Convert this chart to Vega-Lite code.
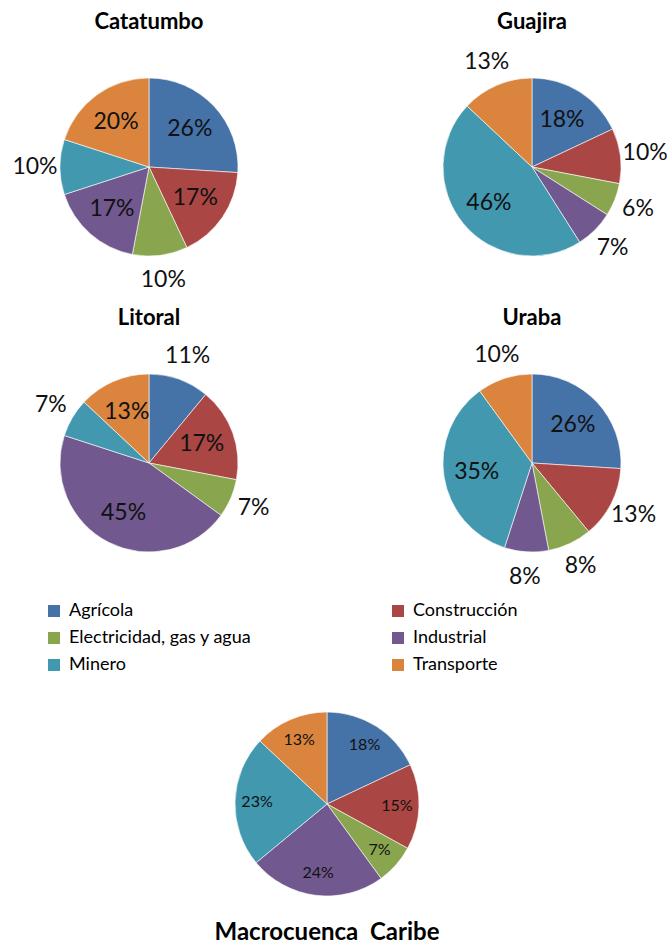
{
  "$schema": "https://vega.github.io/schema/vega-lite/v6.json",
  "padding": {"left": 12, "top": 11, "right": 0, "bottom": 0},
  "background": "white",
  "datasets": {
    "shares": [
      {"region": "Catatumbo", "sector": "Agrícola", "value": 0.26, "pos": "in"},
      {"region": "Catatumbo", "sector": "Construcción", "value": 0.17, "pos": "in"},
      {"region": "Catatumbo", "sector": "Electricidad, gas y agua", "value": 0.10, "pos": "out"},
      {"region": "Catatumbo", "sector": "Industrial", "value": 0.17, "pos": "in"},
      {"region": "Catatumbo", "sector": "Minero", "value": 0.10, "pos": "out"},
      {"region": "Catatumbo", "sector": "Transporte", "value": 0.20, "pos": "in"},
      {"region": "Guajira", "sector": "Agrícola", "value": 0.18, "pos": "in"},
      {"region": "Guajira", "sector": "Construcción", "value": 0.10, "pos": "out"},
      {"region": "Guajira", "sector": "Electricidad, gas y agua", "value": 0.06, "pos": "out"},
      {"region": "Guajira", "sector": "Industrial", "value": 0.07, "pos": "out"},
      {"region": "Guajira", "sector": "Minero", "value": 0.46, "pos": "in"},
      {"region": "Guajira", "sector": "Transporte", "value": 0.13, "pos": "out"},
      {"region": "Litoral", "sector": "Agrícola", "value": 0.11, "pos": "out"},
      {"region": "Litoral", "sector": "Construcción", "value": 0.17, "pos": "in"},
      {"region": "Litoral", "sector": "Electricidad, gas y agua", "value": 0.07, "pos": "out"},
      {"region": "Litoral", "sector": "Industrial", "value": 0.45, "pos": "in"},
      {"region": "Litoral", "sector": "Minero", "value": 0.07, "pos": "out"},
      {"region": "Litoral", "sector": "Transporte", "value": 0.13, "pos": "in"},
      {"region": "Uraba", "sector": "Agrícola", "value": 0.26, "pos": "in"},
      {"region": "Uraba", "sector": "Construcción", "value": 0.13, "pos": "out"},
      {"region": "Uraba", "sector": "Electricidad, gas y agua", "value": 0.08, "pos": "out"},
      {"region": "Uraba", "sector": "Industrial", "value": 0.08, "pos": "out"},
      {"region": "Uraba", "sector": "Minero", "value": 0.35, "pos": "in"},
      {"region": "Uraba", "sector": "Transporte", "value": 0.10, "pos": "out"},
      {"region": "Macrocuenca Caribe", "sector": "Agrícola", "value": 0.18, "pos": "in"},
      {"region": "Macrocuenca Caribe", "sector": "Construcción", "value": 0.15, "pos": "in"},
      {"region": "Macrocuenca Caribe", "sector": "Electricidad, gas y agua", "value": 0.07, "pos": "in"},
      {"region": "Macrocuenca Caribe", "sector": "Industrial", "value": 0.24, "pos": "in"},
      {"region": "Macrocuenca Caribe", "sector": "Minero", "value": 0.23, "pos": "in"},
      {"region": "Macrocuenca Caribe", "sector": "Transporte", "value": 0.13, "pos": "in"}
    ]
  },
  "data": {"name": "shares"},
  "config": {
    "view": {"stroke": null},
    "font": "Lato",
    "title": {"font": "Lato", "fontSize": 22, "fontWeight": "bold", "color": "#000", "anchor": "middle", "offset": 8}
  },
  "resolve": {"scale": {"color": "shared"}},
  "spacing": 121,
  "vconcat": [
    {
      "spacing": 14,
      "vconcat": [
        {
          "spacing": 111,
          "bounds": "flush",
          "hconcat": [
            {
              "title": "Catatumbo",
              "width": 272, "height": 250,
              "transform": [{"filter": "datum.region === 'Catatumbo'"}],
              "encoding": {"theta": {"field": "value", "type": "quantitative", "stack": true}, "order": {"field": "sector", "type": "ordinal", "sort": "ascending"}},
              "layer": [
                {"mark": {"type": "arc", "outerRadius": 89, "stroke": "#fff", "strokeWidth": 0.6},
                 "encoding": {"color": {"field": "sector", "type": "nominal",
                   "scale": {"domain": ["Agrícola", "Construcción", "Electricidad, gas y agua", "Industrial", "Minero", "Transporte"], "range": ["#4572A7", "#AA4643", "#89A54E", "#71588F", "#4198AF", "#DB843D"]},
                   "legend": {"orient": "none", "legendX": 32, "legendY": 560, "direction": "horizontal", "columns": 2, "columnPadding": 137, "rowPadding": 9, "title": null, "symbolType": "square", "symbolSize": 144, "symbolStrokeWidth": 0, "labelFontSize": 18, "labelFont": "Lato", "labelColor": "#000", "labelOffset": 6, "labelLimit": 400}}}},
                {"mark": {"type": "text", "radius": 56, "fontSize": 23, "color": "#111"},
                 "encoding": {"detail": {"field": "sector"}, "text": {"field": "value", "format": ".0%"},
                   "opacity": {"condition": {"test": "datum.pos === 'in'", "value": 1}, "value": 0}}},
                {"mark": {"type": "text", "radius": 114, "fontSize": 23, "color": "#111"},
                 "encoding": {"detail": {"field": "sector"}, "text": {"field": "value", "format": ".0%"},
                   "opacity": {"condition": {"test": "datum.pos === 'out'", "value": 1}, "value": 0}}}
              ]
            },
            {
              "title": "Guajira",
              "width": 272, "height": 250,
              "transform": [{"filter": "datum.region === 'Guajira'"}],
              "encoding": {"theta": {"field": "value", "type": "quantitative", "stack": true}, "order": {"field": "sector", "type": "ordinal", "sort": "ascending"}},
              "layer": [
                {"mark": {"type": "arc", "outerRadius": 89, "stroke": "#fff", "strokeWidth": 0.6},
                 "encoding": {"color": {"field": "sector", "type": "nominal"}}},
                {"mark": {"type": "text", "radius": 56, "fontSize": 23, "color": "#111"},
                 "encoding": {"detail": {"field": "sector"}, "text": {"field": "value", "format": ".0%"},
                   "opacity": {"condition": {"test": "datum.pos === 'in'", "value": 1}, "value": 0}}},
                {"mark": {"type": "text", "radius": 114, "fontSize": 23, "color": "#111"},
                 "encoding": {"detail": {"field": "sector"}, "text": {"field": "value", "format": ".0%"},
                   "opacity": {"condition": {"test": "datum.pos === 'out'", "value": 1}, "value": 0}}}
              ]
            }
          ]
        },
        {
          "spacing": 111,
          "bounds": "flush",
          "hconcat": [
            {
              "title": "Litoral",
              "width": 272, "height": 250,
              "transform": [{"filter": "datum.region === 'Litoral'"}],
              "encoding": {"theta": {"field": "value", "type": "quantitative", "stack": true}, "order": {"field": "sector", "type": "ordinal", "sort": "ascending"}},
              "layer": [
                {"mark": {"type": "arc", "outerRadius": 89, "stroke": "#fff", "strokeWidth": 0.6},
                 "encoding": {"color": {"field": "sector", "type": "nominal"}}},
                {"mark": {"type": "text", "radius": 56, "fontSize": 23, "color": "#111"},
                 "encoding": {"detail": {"field": "sector"}, "text": {"field": "value", "format": ".0%"},
                   "opacity": {"condition": {"test": "datum.pos === 'in'", "value": 1}, "value": 0}}},
                {"mark": {"type": "text", "radius": 114, "fontSize": 23, "color": "#111"},
                 "encoding": {"detail": {"field": "sector"}, "text": {"field": "value", "format": ".0%"},
                   "opacity": {"condition": {"test": "datum.pos === 'out'", "value": 1}, "value": 0}}}
              ]
            },
            {
              "title": "Uraba",
              "width": 272, "height": 250,
              "transform": [{"filter": "datum.region === 'Uraba'"}],
              "encoding": {"theta": {"field": "value", "type": "quantitative", "stack": true}, "order": {"field": "sector", "type": "ordinal", "sort": "ascending"}},
              "layer": [
                {"mark": {"type": "arc", "outerRadius": 89, "stroke": "#fff", "strokeWidth": 0.6},
                 "encoding": {"color": {"field": "sector", "type": "nominal"}}},
                {"mark": {"type": "text", "radius": 56, "fontSize": 23, "color": "#111"},
                 "encoding": {"detail": {"field": "sector"}, "text": {"field": "value", "format": ".0%"},
                   "opacity": {"condition": {"test": "datum.pos === 'in'", "value": 1}, "value": 0}}},
                {"mark": {"type": "text", "radius": 114, "fontSize": 23, "color": "#111"},
                 "encoding": {"detail": {"field": "sector"}, "text": {"field": "value", "format": ".0%"},
                   "opacity": {"condition": {"test": "datum.pos === 'out'", "value": 1}, "value": 0}}}
              ]
            }
          ]
        }
      ]
    },
    {
      "title": {"text": "Macrocuenca\u00a0 Caribe", "orient": "bottom", "fontSize": 24, "offset": 24},
      "width": 628, "height": 184,
      "transform": [{"filter": "datum.region === 'Macrocuenca Caribe'"}],
      "encoding": {"theta": {"field": "value", "type": "quantitative", "stack": true}, "order": {"field": "sector", "type": "ordinal", "sort": "ascending"}},
      "layer": [
        {"mark": {"type": "arc", "outerRadius": 92, "stroke": "#fff", "strokeWidth": 0.6},
         "encoding": {"color": {"field": "sector", "type": "nominal"}}},
        {"mark": {"type": "text", "radius": 70, "fontSize": 16, "color": "#111"},
         "encoding": {"detail": {"field": "sector"}, "text": {"field": "value", "format": ".0%"}}}
      ]
    }
  ]
}
